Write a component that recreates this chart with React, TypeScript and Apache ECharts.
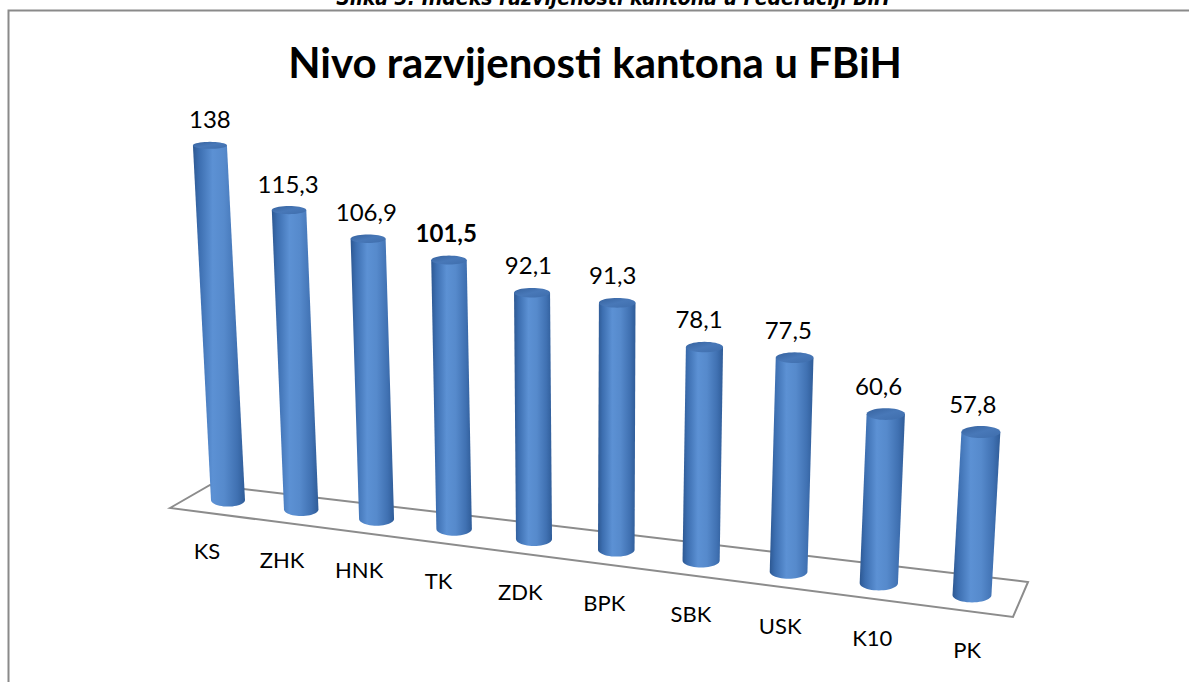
import React, { useEffect, useRef } from "react";
import * as echarts from "echarts";

// ---- data ----
const categories = ["KS", "ZHK", "HNK", "TK", "ZDK", "BPK", "SBK", "USK", "K10", "PK"];
const values = [138, 115.3, 106.9, 101.5, 92.1, 91.3, 78.1, 77.5, 60.6, 57.8];
const boldCategory = "TK";
const chartTitle = "Nivo razvijenosti kantona u FBiH";
const caption = "Slika 3: Indeks razvijenosti kantona u Federaciji BiH";
const valueMin = 0;
const valueMax = 150;

// ---- perspective constants (layout) ----
const U0 = 228;
const STEP = 72.19;
const DEPTH = 0.01408;
const HDEPTH = 0.00983;
const Y0 = 500;
const SLOPE = 95 / 744;
const XV = 590;
const YV = 7600;
const BASE_W = 34;

const FONT = "Lato, 'Open Sans', sans-serif";

function ellipsePts(cx: number, cy: number, rx: number, ry: number, a0: number, a1: number, n: number) {
  const pts: number[][] = [];
  for (let k = 0; k <= n; k++) {
    const a = a0 + ((a1 - a0) * k) / n;
    pts.push([cx + rx * Math.cos(a), cy + ry * Math.sin(a)]);
  }
  return pts;
}

export default function App() {
  const ref = useRef<HTMLDivElement>(null);
  useEffect(() => {
    if (!ref.current) return;
    const chart = echarts.init(ref.current, undefined, { renderer: "svg" });
    const gridLeft = U0 - STEP / 2;
    const gridWidth = STEP * categories.length;
    const pxPerUnit = 2.57;
    const gridBottom = 682 - Y0;
    const gridHeight = (valueMax - valueMin) * pxPerUnit;

    const renderItem = (params: any, api: any) => {
      const i = api.value(0);
      const v = api.value(1);
      const base = api.coord([i, valueMin]);
      const topP = api.coord([i, v]);
      const t = (base[0] - U0) / STEP;
      const s = 1 / (1 - DEPTH * t);
      const Xb = U0 + (base[0] - U0) * s;
      const Yb = base[1] + (Xb - U0) * SLOPE;
      const H = (base[1] - topP[1]) / (1 - HDEPTH * t);
      const Xt = Xb + ((Xb - XV) * H) / (YV - Yb);
      const Yt = Yb - H;
      const rx = (BASE_W * s) / 2;
      const ryB = 2.2 + 0.0088 * Yb;
      const ryT = 2.2 + 0.0088 * Yt;

      // front half of the base ellipse, from left (PI) to right (0), bulging downward
      const arc = ellipsePts(Xb, Yb, rx, ryB, Math.PI, 0, 24);
      const body = [[Xt - rx, Yt], ...arc, [Xt + rx, Yt]];
      const cap = ellipsePts(Xt, Yt, rx, ryT, 0, Math.PI * 2, 40);

      const cat = categories[i];
      const label = String(v).replace(".", ",");
      const bold = cat === boldCategory;

      return {
        type: "group",
        children: [
          {
            type: "polygon",
            shape: { points: body },
            style: {
              fill: new echarts.graphic.LinearGradient(0, 0, 1, 0, [
                { offset: 0, color: "#2d5892" },
                { offset: 0.12, color: "#3c6eb0" },
                { offset: 0.38, color: "#5c91d4" },
                { offset: 0.6, color: "#568acc" },
                { offset: 0.85, color: "#4071b2" },
                { offset: 1, color: "#2f5c98" },
              ]),
            },
          },
          {
            type: "polygon",
            shape: { points: cap },
            style: {
              fill: new echarts.graphic.LinearGradient(0, 0, 1, 1, [
                { offset: 0, color: "#36629e" },
                { offset: 0.5, color: "#4878b8" },
                { offset: 1, color: "#3e6dac" },
              ]),
            },
          },
          {
            type: "text",
            style: {
              text: label,
              x: Xt - 0.9 * t,
              y: Yt - ryT - 23,
              align: "center",
              verticalAlign: "middle",
              fontFamily: FONT,
              fontSize: 24,
              fontWeight: bold ? "bold" : "normal",
              fill: "#000",
            },
          },
          {
            type: "text",
            style: {
              text: cat,
              x: Xb - 21 + 1.8 * t,
              y: Yb + 50 + 0.5 * t,
              align: "center",
              verticalAlign: "middle",
              fontFamily: FONT,
              fontSize: 22,
              fill: "#000",
            },
          },
        ],
      };
    };

    chart.setOption({
      animation: false,
      backgroundColor: "#ffffff",
      grid: { left: gridLeft, width: gridWidth, bottom: gridBottom, height: gridHeight },
      xAxis: { type: "category", data: categories, show: false },
      yAxis: { type: "value", min: valueMin, max: valueMax, show: false },
      graphic: [
        {
          type: "polyline",
          z: 0,
          shape: { points: [[8.5, 700], [8.5, 10.5], [1200, 10.5]] },
          style: { stroke: "#8a8a8a", lineWidth: 2, fill: "none" },
        },
        {
          type: "text",
          z: 0,
          style: {
            text: caption,
            x: 613,
            y: 8,
            align: "center",
            verticalAlign: "bottom",
            fontFamily: "'Liberation Sans Narrow', 'DejaVu Sans Condensed', sans-serif",
            fontSize: 21,
            fontWeight: "bold",
            fontStyle: "italic",
            fill: "#000",
          },
        },
        {
          type: "text",
          z: 0,
          style: {
            text: chartTitle,
            x: 595,
            y: 62,
            align: "center",
            verticalAlign: "middle",
            fontFamily: FONT,
            fontSize: 42,
            fontWeight: "bold",
            fill: "#000",
          },
        },
        {
          type: "polygon",
          z: 0,
          shape: { points: [[170, 508], [210, 485], [1028, 582], [1013, 617]] },
          style: { stroke: "#8c8c8c", lineWidth: 2, fill: "#ffffff" },
        },
      ],
      series: [
        {
          type: "custom",
          renderItem,
          data: values.map((v, i) => [i, v]),
          z: 5,
        },
      ],
    });
    return () => chart.dispose();
  }, []);
  return <div ref={ref} style={{ position: "fixed", left: 0, top: 0, width: 1189, height: 682 }} />;
}
